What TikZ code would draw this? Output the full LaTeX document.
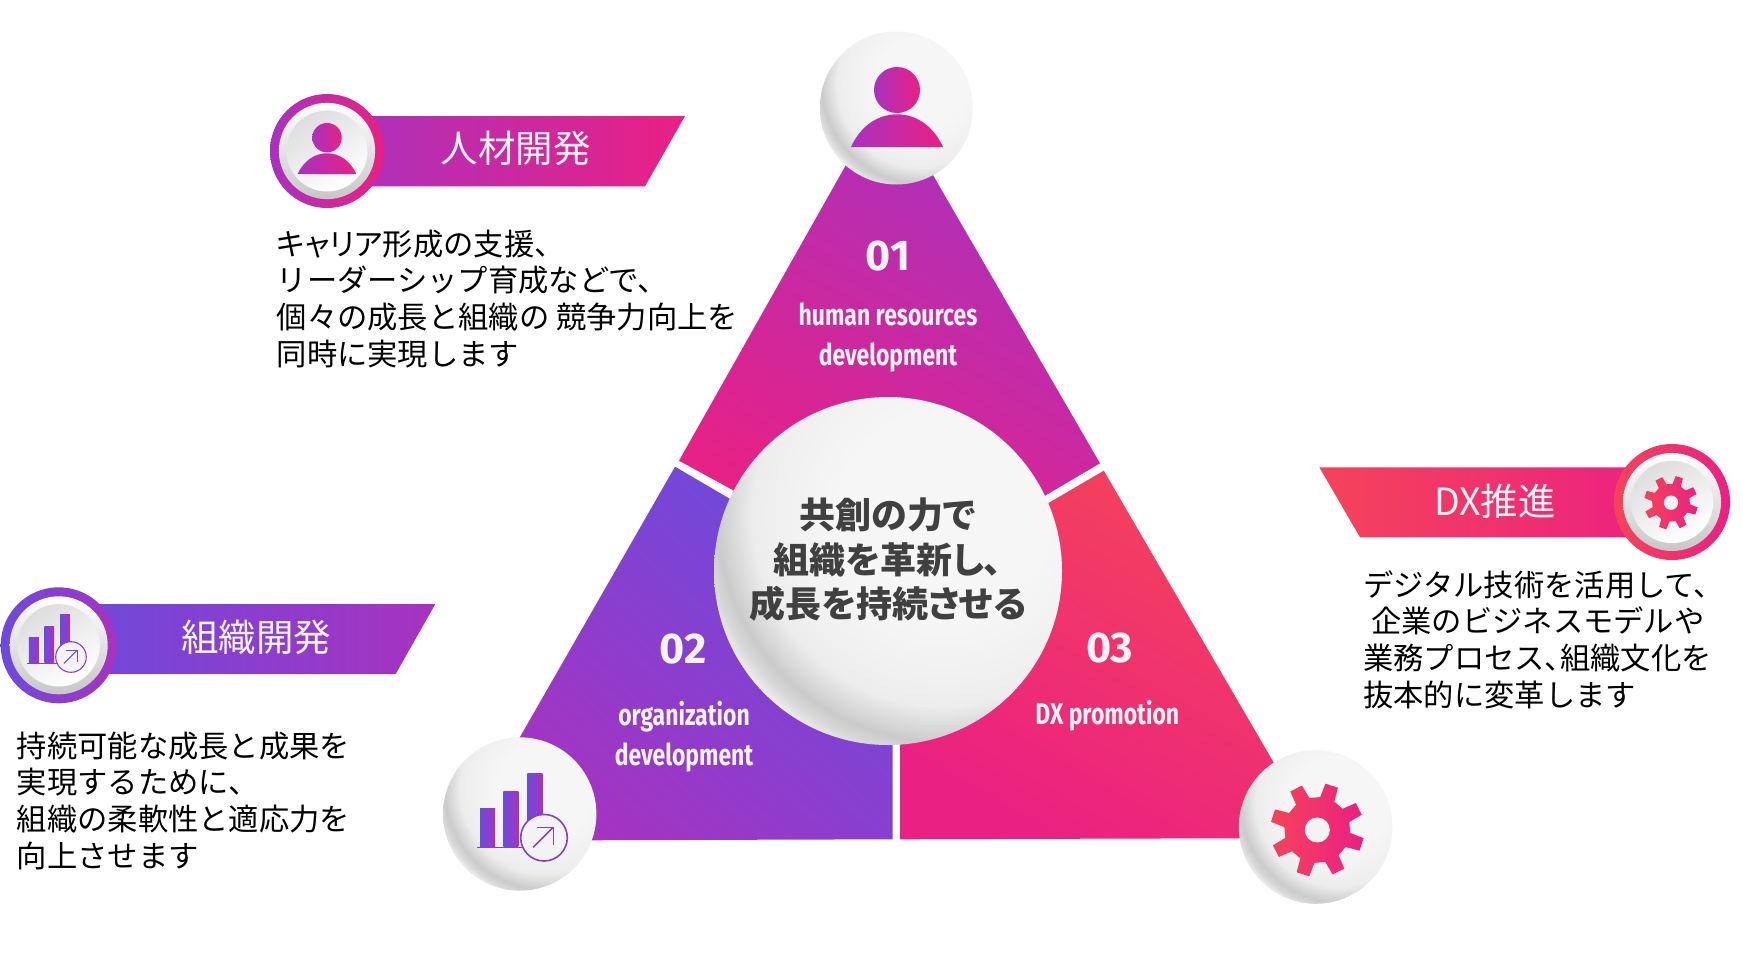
\documentclass[tikz,border=0pt]{standalone}
\usepackage{fontspec}
\setmainfont{Noto Sans CJK JP}
\newfontfamily\katafont[RawFeature=+palt]{Noto Sans CJK JP}
\newfontfamily\latinfont[FakeStretch=0.765]{Fira Sans}
\newfontfamily\numfont{Fira Sans}
\newcommand{\kt}[1]{{\katafont #1}}
\definecolor{violetc}{HTML}{6B4BDD}
\definecolor{purplec}{HTML}{A832C0}
\definecolor{pinkc}{HTML}{EA2083}
\definecolor{redc}{HTML}{F5435A}
\definecolor{palec}{HTML}{F3F3F3}
\definecolor{titlec}{HTML}{404040}
\definecolor{linec}{HTML}{8040D0}
\definecolor{sphA}{HTML}{F6F6F6}
\definecolor{sphB}{HTML}{F1F1F1}
\definecolor{sphC}{HTML}{EDEDED}
\definecolor{sphD}{HTML}{DCDCDC}
\definecolor{sphE}{HTML}{CBCBCB}
\definecolor{sphF}{HTML}{D8D8D8}
\definecolor{sphG}{HTML}{F4F4F4}
\pgfdeclareradialshading{sphere}{\pgfpoint{0bp}{0bp}}{color(0bp)=(sphA); color(10bp)=(sphA); color(15bp)=(sphB); color(18.3bp)=(sphC); color(20bp)=(sphD); color(21.7bp)=(sphE); color(23bp)=(sphF); color(24.5bp)=(sphG); color(25bp)=(sphG)}
\tikzset{
  purplegrad/.style={left color=purplec,right color=pinkc},
  violetgrad/.style={left color=violetc,right color=purplec},
  redgrad/.style={left color=redc,right color=pinkc},
  topwedge/.style={top color=purplec,bottom color=pinkc,shading angle=-30},
  leftwedge/.style={top color=violetc,bottom color=purplec,shading angle=-42},
  rightwedge/.style={top color=redc,bottom color=pinkc,shading angle=-30},
  bandtext/.style={text=palec,font=\katafont\fontsize{37.5}{37.5}\selectfont,inner sep=0pt},
  bodytext/.style={anchor=north west,align=left,inner sep=0pt,font=\fontsize{30.3}{36.8}\selectfont},
  numtext/.style={text=palec,font=\numfont\bfseries\fontsize{43}{43}\selectfont,inner sep=0pt},
  wedgetext/.style={text=palec,align=center,inner sep=0pt,font=\latinfont\bfseries\fontsize{30}{40}\selectfont},
}
\newcommand{\spherec}[3]{
  \begin{scope}
    \clip (#1,#2) circle (#3);
    \shade[shading=sphere] ({#1+0.32*#3},{#2-0.32*#3}) circle ({1.5*#3});
  \end{scope}
}
\newcommand{\ringc}[4]{
  \shade[#4] (#1,#2) circle (#3);
  \shade[top color=white,bottom color=black!22] (#1,#2) circle (#3*0.845);
  \shade[top color=black!13,bottom color=white,shading angle=30] (#1,#2) circle (#3*0.71);
}
\newcommand{\personicon}[3]{
  \begin{scope}[shift={(#1,#2)},scale=#3]
    \shade[purplegrad] (0,0) circle (23);
    \shade[purplegrad] (-46,57) .. controls (-37,37) and (-20,24.3) .. (0,24.3) .. controls (20,24.3) and (37,37) .. (46,57) -- cycle;
  \end{scope}
}
\newcommand{\gearicon}[3]{
  \begin{scope}[shift={(#1,#2)},scale=#3]
    \shade[redgrad] (5:33) \foreach \a in {18,63,...,333}{ -- (\a-13:33) -- (\a-8:47) -- (\a+8:47) -- (\a+13:33)} -- cycle;
    \fill[palec] (0,0) circle (12.5);
  \end{scope}
}
\newcommand{\charticon}[3]{
  \begin{scope}[shift={(#1,#2)},scale=#3]
    \foreach \bx/\by in {-64/-29.4,-40.7/-46,-16.7/-64.4}
      \shade[violetgrad] (\bx,\by) rectangle (\bx+15,9);
    \fill[linec] (-67,9) rectangle (-22,10.4);
    \draw[linec,fill=palec,line width=#3*1.6pt] (0,0) circle (23.3);
    \draw[linec,line width=#3*1.6pt] (-10.7,9.6)--(9.3,-10.4);
    \draw[linec,line width=#3*1.6pt] (-7,-10.4)--(9.3,-10.4)--(9.3,7.3);
  \end{scope}
}
\begin{document}
\begin{tikzpicture}[x=1pt,y=-1pt]
  \useasboundingbox (0,0) rectangle (1743,964);
  \shade[topwedge] (679,460.7)--(886,94)--(1100,463.3)--(1045,495.7)--(888,571)--(732.7,490)--cycle;
  \shade[leftwedge] (675,466.7)--(729,498.3)--(888,571)--(892.7,745)--(892.7,839.3)--(460.5,840.7)--cycle;
  \shade[rightwedge] (1103.8,470.7)--(1317.6,838)--(900,839.3)--(900,744)--(888,571)--(1048,503.3)--cycle;
  \spherec{888}{571}{174}
  \spherec{896.3}{108}{76.5}
  \spherec{519.7}{814}{76.7}
  \spherec{1315.6}{827}{76.8}
  \personicon{897}{90}{1}
  \charticon{544}{837.7}{1}
  \gearicon{1317.3}{830}{1}
  \node[numtext] (numone) at (888,256) {01};
  \node[numtext] (numtwo) at (683,649) {02};
  \node[numtext] (numthree) at (1109.7,648) {03};
  \node[wedgetext] (hrlabel) at (888,337.5) {human resources\\development};
  \node[wedgetext] (orglabel) at (684,736.5) {organization\\development};
  \node[wedgetext] (dxlabel) at (1107.3,715.5) {DX promotion};
  \node[align=center,inner sep=0pt,text=titlec,font=\katafont\bfseries\fontsize{36}{44.5}\selectfont] (titletext) at (888,560) {共創の力で\\組織を革新し、\\成長を持続させる};
  \shade[purplegrad] (327,116)--(685,116)--(645,186.3)--(327,186.3)--cycle;
  \ringc{327}{151}{57}{purplegrad}
  \personicon{327}{137.7}{0.64}
  \node[bandtext] (hrband) at (515.5,148) {人材開発};
  \node[bodytext] (hrtext) at (276.5,229.5) {\kt{キャリア}形成の支援、\\リーダーシップ育成などで、\\個々の成長と組織の 競争力向上を\\同時に実現します};
  \shade[violetgrad] (58.7,604)--(435.3,604)--(395.7,674)--(58.7,674)--cycle;
  \ringc{58.7}{645.3}{58}{violetgrad}
  \charticon{71}{657}{0.657}
  \node[bandtext] (orgband) at (256,637) {組織開発};
  \node[bodytext] (orgtext) at (16.7,731.5) {持続可能な成長と成果を\\実現するために、\\組織の柔軟性と適応力を\\向上させます};
  \shade[redgrad] (1319.3,467.3)--(1672,467.3)--(1672,537.3)--(1360,537.3)--cycle;
  \ringc{1672}{502}{58}{redgrad}
  \gearicon{1671}{502.7}{0.575}
  \node[bandtext] (dxband) at (1495,501) {DX推進};
  \node[bodytext] (dxtext) at (1363,570) {デジタル技術を活用して、\\\hspace{8pt}企業のビジネスモデルや\\業務プロセス\kt{、}組織文化を\\抜本的に変革します};
\end{tikzpicture}
\end{document}
